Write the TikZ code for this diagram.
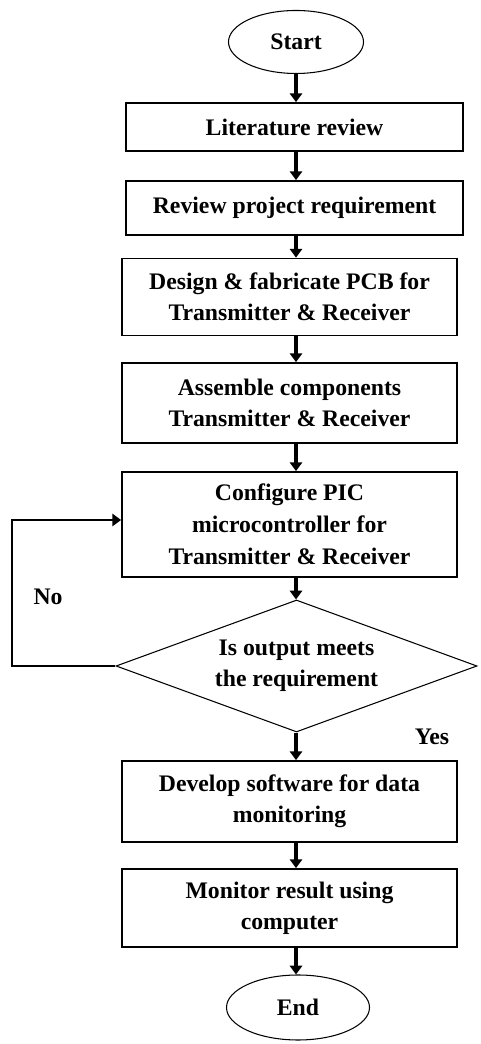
\documentclass[tikz,border=0pt]{standalone}
\usepackage{fontspec}
\setmainfont{Liberation Serif}
\usetikzlibrary{shapes.geometric,arrows.meta}

\begin{document}
\begin{tikzpicture}[
  every node/.style={font=\fontsize{13.5}{17.5}\selectfont\bfseries, align=center},
  stepbox/.style={draw, line width=1pt, inner sep=0pt},
  terminal/.style={draw, ellipse, line width=0.6pt, inner sep=0pt},
  decision/.style={draw, diamond, line width=0.6pt, inner sep=0pt, aspect=2.75},
  arr/.style={line width=2pt, -{Triangle[length=5pt,width=7pt]}},
  loop/.style={line width=1.1pt, -{Triangle[length=5pt,width=7pt]}}
]
\useasboundingbox (0,0) rectangle (9.62,20.88);
%\draw[step=0.5cm,gray,very thin] (0,0) grid (9.62,20.88);

\node[terminal, minimum width=2.7cm, minimum height=1.26cm] (start) at (5.92,20.04) {Start};

\node[stepbox, minimum width=6.74cm, minimum height=0.96cm] (lit) at (5.89,18.34) {Literature review};
\node[stepbox, minimum width=6.74cm, minimum height=1.08cm] (req) at (5.89,16.72) {Review project requirement};
\node[stepbox, minimum width=6.7cm, minimum height=1.54cm] (pcb) at (5.79,14.94) {Design \& fabricate PCB for\\Transmitter \& Receiver};
\node[stepbox, minimum width=6.7cm, minimum height=1.6cm] (asm) at (5.79,12.82) {Assemble components\\Transmitter \& Receiver};
\node[stepbox, minimum width=6.7cm, minimum height=2.1cm, font=\fontsize{13.5}{18.2}\selectfont\bfseries] (pic) at (5.79,10.39) {Configure PIC\\microcontroller for\\Transmitter \& Receiver};

%decision
\node[decision, minimum width=7.22cm, minimum height=2.64cm] (dec) at (5.93,7.56) {Is output meets\\the requirement};
\node[] (no) at (0.96,8.94) {No};
\node[] (yes) at (8.64,6.14) {Yes};

\node[stepbox, minimum width=6.7cm, minimum height=1.62cm] (dev) at (5.79,4.85) {Develop software for data\\monitoring};
\node[stepbox, minimum width=6.7cm, minimum height=1.56cm] (mon) at (5.79,2.72) {Monitor result using\\computer};

\node[terminal, minimum width=2.86cm, minimum height=1.3cm] (end) at (5.96,0.73) {End};

%arrows
\draw[arr] (start) -- (start |- lit.north);
\draw[arr] (lit.south -| start) -- (start |- req.north);
\draw[arr] (req.south -| start) -- (start |- pcb.north);
\draw[arr] (pcb.south -| start) -- (start |- asm.north);
\draw[arr] (asm.south -| start) -- (start |- pic.north);
\draw[arr] (pic.south -| start) -- (start |- dec.north);
\draw[arr] (dec.south -| start) -- (start |- dev.north);
\draw[arr] (dev.south -| start) -- (start |- mon.north);
\draw[arr] (mon.south -| start) -- (start |- end.north);

%no loop
\coordinate (back) at (0.24,10.48);
\draw[loop] (dec.west) -| (back) -- (back -| pic.west);

\end{tikzpicture}
\end{document}
